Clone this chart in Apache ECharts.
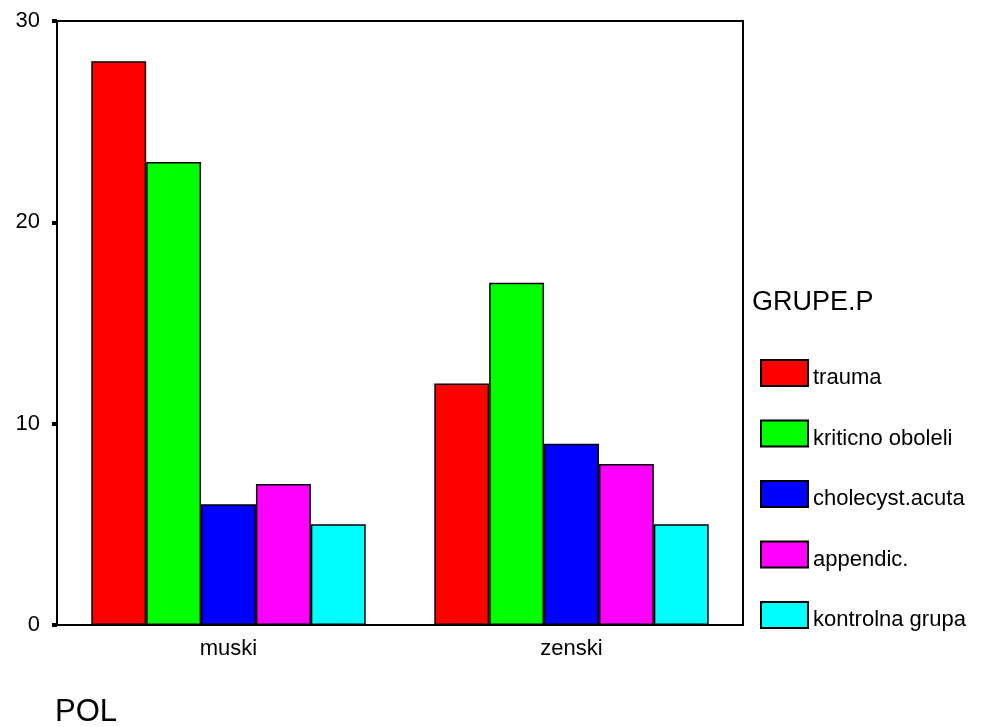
<!DOCTYPE html>
<html>
<head>
<meta charset="utf-8">
<script src="https://cdn.jsdelivr.net/npm/echarts@6/dist/echarts.min.js"></script>
<style>
html,body{margin:0;padding:0;background:#fff;}
#chart{width:989px;height:727px;}
</style>
</head>
<body>
<div id="chart"></div>
<script>
var categories = ['muski', 'zenski'];
var seriesNames = ['trauma', 'kriticno oboleli', 'cholecyst.acuta', 'appendic.', 'kontrolna grupa'];
var trauma = [28, 12];
var kriticno = [23, 17];
var cholecyst = [6, 9];
var appendic = [7, 8];
var kontrolna = [5, 5];
var yTicks = [0, 10, 20, 30];
var colors = ['#FF0000', '#00FF00', '#0000FF', '#FF00FF', '#00FFFF'];
var allValues = [trauma, kriticno, cholecyst, appendic, kontrolna];

var FONT = '"Liberation Sans", Arial, sans-serif';
var chart = echarts.init(document.getElementById('chart'));

var series = seriesNames.map(function (name, i) {
  return {
    name: name,
    type: 'bar',
    data: allValues[i],
    barGap: '0%',
    barCategoryGap: '20%',
    itemStyle: { color: colors[i], borderColor: '#000', borderWidth: 1.5 }
  };
});

chart.setOption({
  animation: false,
  backgroundColor: '#fff',
  grid: {
    left: 57, top: 21, right: 246, bottom: 102,
    show: true, borderColor: '#000', borderWidth: 2, backgroundColor: 'transparent'
  },
  xAxis: {
    type: 'category',
    data: categories,
    axisLine: { lineStyle: { color: '#000', width: 2 } },
    axisTick: { alignWithLabel: true, length: 5, lineStyle: { color: '#000', width: 6 } },
    axisLabel: { color: '#000', fontSize: 22, fontFamily: FONT, margin: 13 },
    splitLine: { show: false }
  },
  yAxis: {
    type: 'value',
    min: yTicks[0], max: yTicks[yTicks.length - 1], interval: 10,
    axisLine: { show: true, lineStyle: { color: '#000', width: 2 } },
    axisTick: { show: true, length: 5, lineStyle: { color: '#000', width: 4 } },
    axisLabel: { color: '#000', fontSize: 22, fontFamily: FONT, margin: 17 },
    splitLine: { show: false }
  },
  legend: {
    orient: 'vertical',
    left: 760, top: 357,
    padding: 0,
    itemWidth: 47, itemHeight: 26,
    itemGap: 28.5,
    icon: 'rect',
    selectedMode: false,
    formatter: function (n) { return '{a|' + n + '}'; },
    textStyle: {
      color: '#000', fontSize: 22, fontFamily: FONT,
      rich: { a: { color: '#000', fontSize: 22, fontFamily: FONT, lineHeight: 24, padding: [10, 0, 0, 0] } }
    },
    data: seriesNames
  },
  graphic: [
    { type: 'text', left: 752, top: 289, style: { text: 'GRUPE.P', fill: '#000', font: '27px ' + FONT } },
    { type: 'text', left: 55, top: 697, style: { text: 'POL', fill: '#000', font: '31px ' + FONT } }
  ],
  series: series
});
</script>
</body>
</html>
